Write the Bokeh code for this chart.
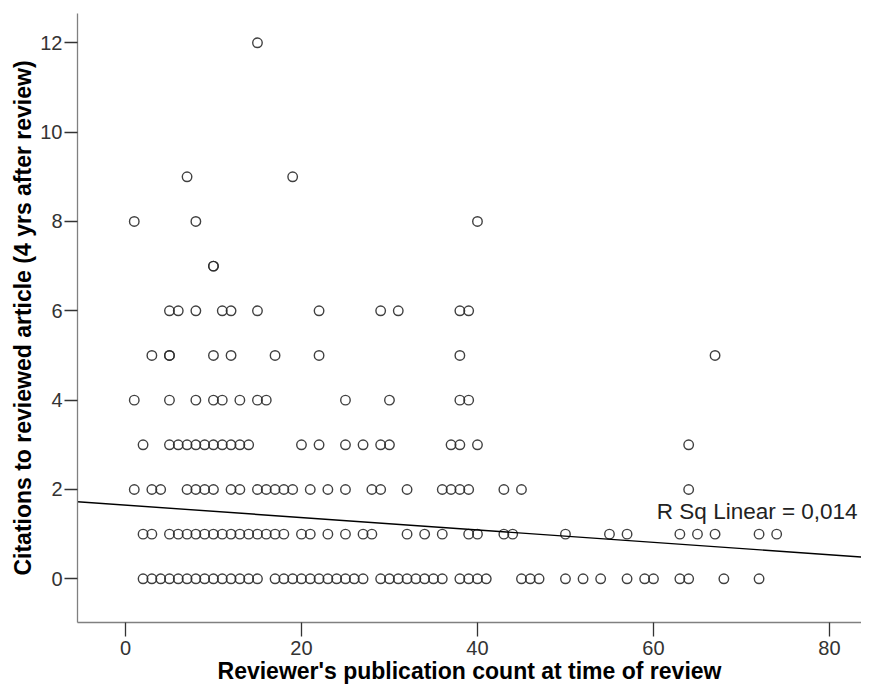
from bokeh.plotting import figure
from bokeh.models import Range1d, Label, FixedTicker, ColumnDataSource
from bokeh.embed import file_html
from bokeh.resources import INLINE

# Reviewer's publication count (x) for each citation level (y)
cit_0 = [2, 3, 4, 5, 6, 7, 8, 9, 10, 11, 12, 13, 14, 15, 17, 18, 19, 20, 21, 22, 23, 24, 25,
         26, 27, 29, 30, 31, 32, 33, 34, 35, 36, 38, 39, 40, 41, 45, 46, 47, 50, 52, 54, 57,
         59, 60, 63, 64, 68, 72]
cit_1 = [2, 3, 5, 6, 7, 8, 9, 10, 11, 12, 13, 14, 15, 16, 17, 18, 20, 21, 23, 25, 27, 28, 32,
         34, 36, 39, 40, 43, 44, 50, 55, 57, 63, 65, 67, 72, 74]
cit_2 = [1, 3, 4, 7, 8, 9, 10, 12, 13, 15, 16, 17, 18, 19, 21, 23, 25, 28, 29, 32, 36, 37, 38,
         39, 43, 45, 64]
cit_3 = [2, 5, 6, 7, 8, 9, 10, 11, 12, 13, 14, 20, 22, 25, 27, 29, 30, 37, 38, 40, 64]
cit_4 = [1, 5, 8, 10, 11, 13, 15, 16, 25, 30, 38, 39]
cit_5 = [3, 5, 5, 10, 12, 17, 22, 38, 67]
cit_6 = [5, 6, 8, 11, 12, 15, 22, 29, 31, 38, 39]
cit_7 = [10, 10]
cit_8 = [1, 8, 40]
cit_9 = [7, 19]
cit_12 = [15]

citation_levels = [0, 1, 2, 3, 4, 5, 6, 7, 8, 9, 12]
pub_groups = [cit_0, cit_1, cit_2, cit_3, cit_4, cit_5, cit_6, cit_7, cit_8, cit_9, cit_12]

x_ticks = [0, 20, 40, 60, 80]
y_ticks = [0, 2, 4, 6, 8, 10, 12]

fit_intercept = 1.65
fit_slope = -0.0139
r_sq_text = "R Sq Linear = 0,014"

x_lo, x_hi = -5.45, 83.64
y_lo, y_hi = -0.978, 12.656

xs, ys = [], []
for lvl, grp in zip(citation_levels, pub_groups):
    xs.extend(grp)
    ys.extend([lvl] * len(grp))
src = ColumnDataSource(dict(x=xs, y=ys))

FONT = "Liberation Sans"

p = figure(width=861, height=686, output_backend="svg", toolbar_location=None,
           x_range=Range1d(x_lo, x_hi), y_range=Range1d(y_lo, y_hi),
           min_border_left=77, min_border_right=0, min_border_top=13, min_border_bottom=64)
p.outline_line_color = None
p.background_fill_color = "white"
p.border_fill_color = "white"
p.xgrid.visible = False
p.ygrid.visible = False

p.scatter("x", "y", source=src, marker="circle", size=9.5, fill_color=None,
          line_color="#2b2b2b", line_width=1.4, line_alpha=0.9)

fx = [x_lo, x_hi]
fy = [fit_intercept + fit_slope * v for v in fx]
p.line(fx, fy, line_color="black", line_width=1.4)

p.add_layout(Label(x=83.2, y=1.5, text=r_sq_text, text_align="right", text_baseline="middle",
                   text_font=FONT, text_font_size="22.5px", text_color="#222222"))

for ax in (p.xaxis[0], p.yaxis[0]):
    ax.axis_line_color = "#808080"
    ax.axis_line_width = 1.3
    ax.major_tick_line_color = "#333333"
    ax.major_tick_line_width = 1.3
    ax.minor_tick_line_color = None
    ax.major_tick_in = 0
    ax.major_label_text_font = FONT
    ax.major_label_text_font_size = "20px"
    ax.major_label_text_color = "#333333"
    ax.axis_label_text_font = FONT
    ax.axis_label_text_font_size = "23px"
    ax.axis_label_text_font_style = "bold"
    ax.axis_label_text_color = "black"

p.xaxis[0].ticker = FixedTicker(ticks=x_ticks)
p.yaxis[0].ticker = FixedTicker(ticks=y_ticks)
p.xaxis[0].major_tick_out = 14
p.yaxis[0].major_tick_out = 13
p.xaxis[0].major_label_standoff = 4
p.yaxis[0].major_label_standoff = 2
p.xaxis[0].axis_label = "Reviewer's publication count at time of review"
p.yaxis[0].axis_label = "Citations to reviewed article (4 yrs after review)"
p.xaxis[0].axis_label_standoff = 0
p.yaxis[0].axis_label_standoff = 1

open("out.html", "w").write(file_html(p, INLINE))
